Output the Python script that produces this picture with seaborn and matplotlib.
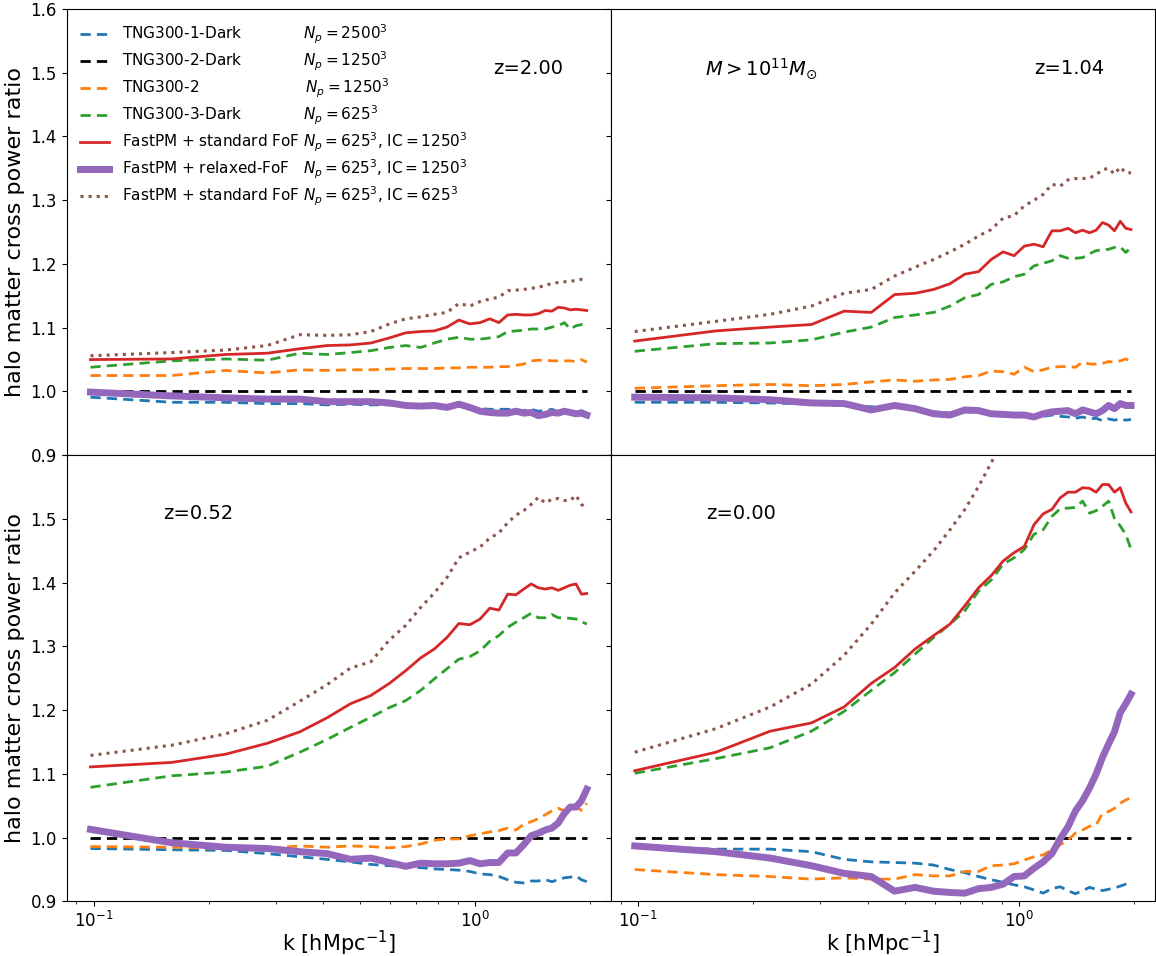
import numpy as np
import matplotlib
matplotlib.use("Agg")
import matplotlib.pyplot as plt
import seaborn as sns

# wavenumber bins [h/Mpc]
K = [0.098, 0.160, 0.222, 0.285, 0.347, 0.409, 0.471, 0.533, 0.596, 0.658,
     0.720, 0.782, 0.844, 0.907, 0.969, 1.031, 1.093, 1.155, 1.218, 1.280,
     1.342, 1.404, 1.466, 1.529, 1.591, 1.653, 1.715, 1.777, 1.840, 1.902, 1.964]

# reference run (ratio to itself)
REF = [1.0, 1.0, 1.0, 1.0, 1.0, 1.0, 1.0, 1.0, 1.0, 1.0, 1.0, 1.0, 1.0, 1.0, 1.0, 1.0,
       1.0, 1.0, 1.0, 1.0, 1.0, 1.0, 1.0, 1.0, 1.0, 1.0, 1.0, 1.0, 1.0, 1.0, 1.0]

# ---- z = 2.00 ----
z200_tng1dark = [0.991, 0.983, 0.983, 0.981, 0.981, 0.979, 0.980, 0.979, 0.979, 0.978, 0.977,
                 0.977, 0.976, 0.977, 0.975, 0.973, 0.972, 0.972, 0.972, 0.971, 0.970, 0.972,
                 0.969, 0.970, 0.972, 0.968, 0.970, 0.969, 0.967, 0.970, 0.966]
z200_tng2 = [1.025, 1.025, 1.033, 1.029, 1.034, 1.033, 1.034, 1.034, 1.035, 1.036, 1.036,
             1.036, 1.037, 1.037, 1.038, 1.038, 1.038, 1.039, 1.039, 1.041, 1.043, 1.048,
             1.049, 1.049, 1.048, 1.048, 1.048, 1.048, 1.047, 1.050, 1.046]
z200_tng3dark = [1.038, 1.048, 1.051, 1.049, 1.060, 1.058, 1.061, 1.064, 1.069, 1.072, 1.069,
                 1.076, 1.082, 1.085, 1.082, 1.082, 1.084, 1.086, 1.094, 1.095, 1.096, 1.098,
                 1.098, 1.098, 1.101, 1.103, 1.108, 1.098, 1.103, 1.105, 1.106]
z200_fof = [1.050, 1.051, 1.058, 1.060, 1.067, 1.072, 1.073, 1.076, 1.084, 1.092, 1.094,
            1.095, 1.101, 1.112, 1.106, 1.108, 1.114, 1.108, 1.120, 1.121, 1.120, 1.120,
            1.122, 1.127, 1.126, 1.132, 1.131, 1.128, 1.129, 1.128, 1.127]
z200_relaxed = [0.999, 0.993, 0.990, 0.988, 0.988, 0.984, 0.984, 0.984, 0.982, 0.978, 0.977,
                0.978, 0.975, 0.980, 0.975, 0.969, 0.967, 0.966, 0.966, 0.969, 0.966, 0.967,
                0.962, 0.964, 0.967, 0.966, 0.969, 0.967, 0.965, 0.966, 0.963]
z200_fof625 = [1.056, 1.061, 1.065, 1.072, 1.089, 1.088, 1.089, 1.094, 1.106, 1.114, 1.117,
               1.121, 1.124, 1.138, 1.134, 1.141, 1.145, 1.148, 1.158, 1.159, 1.160, 1.162,
               1.163, 1.167, 1.169, 1.171, 1.172, 1.173, 1.174, 1.176, 1.177]

# ---- z = 1.04 ----
z104_tng1dark = [0.983, 0.983, 0.982, 0.980, 0.978, 0.976, 0.975, 0.972, 0.968, 0.966, 0.968,
                 0.967, 0.963, 0.962, 0.961, 0.960, 0.958, 0.961, 0.963, 0.961, 0.960, 0.958,
                 0.960, 0.957, 0.958, 0.954, 0.957, 0.955, 0.957, 0.955, 0.956]
z104_tng2 = [1.005, 1.009, 1.011, 1.009, 1.011, 1.015, 1.018, 1.016, 1.018, 1.019, 1.023,
             1.025, 1.032, 1.031, 1.027, 1.038, 1.031, 1.034, 1.038, 1.039, 1.039, 1.038,
             1.046, 1.043, 1.043, 1.044, 1.047, 1.046, 1.048, 1.051, 1.047]
z104_tng3dark = [1.063, 1.075, 1.076, 1.081, 1.093, 1.101, 1.116, 1.120, 1.124, 1.134, 1.147,
                 1.152, 1.168, 1.172, 1.180, 1.184, 1.197, 1.201, 1.205, 1.213, 1.209, 1.209,
                 1.210, 1.216, 1.221, 1.222, 1.223, 1.226, 1.227, 1.218, 1.226]
z104_fof = [1.079, 1.095, 1.101, 1.105, 1.126, 1.124, 1.152, 1.154, 1.160, 1.169, 1.184,
            1.188, 1.207, 1.219, 1.213, 1.228, 1.231, 1.227, 1.252, 1.252, 1.256, 1.249,
            1.253, 1.249, 1.253, 1.265, 1.261, 1.252, 1.267, 1.256, 1.254]
z104_relaxed = [0.991, 0.990, 0.987, 0.982, 0.981, 0.971, 0.978, 0.973, 0.965, 0.963, 0.971,
                0.970, 0.965, 0.964, 0.963, 0.963, 0.960, 0.965, 0.968, 0.969, 0.970, 0.965,
                0.971, 0.968, 0.965, 0.970, 0.978, 0.973, 0.981, 0.978, 0.978]
z104_fof625 = [1.094, 1.110, 1.121, 1.134, 1.154, 1.160, 1.181, 1.195, 1.207, 1.219, 1.231,
               1.244, 1.254, 1.272, 1.276, 1.291, 1.300, 1.309, 1.325, 1.322, 1.332, 1.334,
               1.334, 1.335, 1.340, 1.348, 1.350, 1.341, 1.352, 1.343, 1.343]

# ---- z = 0.52 ----
z052_tng1dark = [0.983, 0.981, 0.980, 0.975, 0.970, 0.966, 0.962, 0.958, 0.956, 0.954, 0.953,
                 0.951, 0.950, 0.949, 0.947, 0.943, 0.942, 0.939, 0.934, 0.930, 0.929, 0.932,
                 0.932, 0.934, 0.931, 0.934, 0.937, 0.938, 0.940, 0.934, 0.931]
z052_tng2 = [0.986, 0.985, 0.983, 0.983, 0.987, 0.985, 0.987, 0.986, 0.984, 0.986, 0.990,
             0.996, 0.998, 0.998, 1.003, 1.006, 1.009, 1.011, 1.015, 1.012, 1.021, 1.025,
             1.030, 1.036, 1.042, 1.046, 1.042, 1.046, 1.048, 1.043, 1.054]
z052_tng3dark = [1.079, 1.097, 1.103, 1.112, 1.134, 1.154, 1.173, 1.189, 1.204, 1.215, 1.231,
                 1.249, 1.265, 1.280, 1.284, 1.293, 1.308, 1.317, 1.330, 1.338, 1.345, 1.352,
                 1.345, 1.345, 1.350, 1.345, 1.345, 1.344, 1.343, 1.339, 1.335]
z052_fof = [1.111, 1.118, 1.131, 1.148, 1.166, 1.188, 1.210, 1.223, 1.242, 1.262, 1.282,
            1.296, 1.314, 1.336, 1.334, 1.343, 1.360, 1.357, 1.382, 1.381, 1.390, 1.398,
            1.392, 1.390, 1.392, 1.388, 1.392, 1.396, 1.398, 1.382, 1.383]
z052_relaxed = [1.013, 0.992, 0.985, 0.983, 0.978, 0.975, 0.966, 0.968, 0.961, 0.955, 0.960,
                0.959, 0.959, 0.960, 0.964, 0.959, 0.961, 0.961, 0.976, 0.976, 0.989, 1.003,
                1.007, 1.012, 1.015, 1.023, 1.038, 1.048, 1.048, 1.058, 1.076]
z052_fof625 = [1.129, 1.145, 1.163, 1.184, 1.214, 1.240, 1.266, 1.276, 1.310, 1.333, 1.361,
               1.384, 1.408, 1.439, 1.448, 1.456, 1.470, 1.478, 1.494, 1.506, 1.513, 1.523,
               1.534, 1.525, 1.531, 1.532, 1.529, 1.529, 1.537, 1.523, 1.516]

# ---- z = 0.00 ----
z000_tng1dark = [0.985, 0.982, 0.982, 0.978, 0.966, 0.962, 0.961, 0.960, 0.957, 0.950, 0.945,
                 0.939, 0.934, 0.930, 0.926, 0.923, 0.918, 0.913, 0.920, 0.923, 0.917, 0.912,
                 0.917, 0.922, 0.919, 0.917, 0.919, 0.921, 0.924, 0.927, 0.929]
z000_tng2 = [0.950, 0.942, 0.939, 0.935, 0.937, 0.935, 0.935, 0.942, 0.940, 0.940, 0.947,
             0.947, 0.956, 0.957, 0.959, 0.965, 0.970, 0.973, 0.981, 0.989, 0.996, 1.007,
             1.012, 1.018, 1.020, 1.038, 1.041, 1.046, 1.054, 1.059, 1.063]
z000_tng3dark = [1.101, 1.124, 1.141, 1.167, 1.198, 1.231, 1.259, 1.288, 1.314, 1.335, 1.356,
                 1.387, 1.404, 1.429, 1.439, 1.452, 1.476, 1.483, 1.504, 1.516, 1.517, 1.518,
                 1.528, 1.509, 1.513, 1.520, 1.528, 1.501, 1.489, 1.476, 1.452]
z000_fof = [1.105, 1.134, 1.167, 1.180, 1.205, 1.242, 1.267, 1.296, 1.317, 1.335, 1.364,
            1.392, 1.411, 1.434, 1.447, 1.457, 1.491, 1.508, 1.515, 1.533, 1.542, 1.542,
            1.549, 1.548, 1.542, 1.554, 1.554, 1.542, 1.549, 1.525, 1.511]
z000_relaxed = [0.987, 0.978, 0.968, 0.956, 0.944, 0.939, 0.916, 0.922, 0.916, 0.914, 0.913,
                0.920, 0.922, 0.927, 0.939, 0.940, 0.952, 0.962, 0.975, 0.998, 1.017, 1.042,
                1.058, 1.078, 1.100, 1.126, 1.147, 1.166, 1.196, 1.210, 1.225]
z000_fof625 = [1.134, 1.171, 1.205, 1.241, 1.286, 1.335, 1.384, 1.418, 1.450, 1.483, 1.515,
               1.551, 1.588, 1.625, 1.660]

LABELS = [
    "TNG300-1-Dark" + " " * 13 + r"$N_p=2500^3$",
    "TNG300-2-Dark" + " " * 13 + r"$N_p=1250^3$",
    "TNG300-2" + " " * 22 + r"$N_p=1250^3$",
    "TNG300-3-Dark" + " " * 13 + r"$N_p=625^3$",
    "FastPM + standard FoF " + r"$N_p=625^3$, $\mathrm{IC}=1250^3$",
    "FastPM + relaxed-FoF   " + r"$N_p=625^3$, $\mathrm{IC}=1250^3$",
    "FastPM + standard FoF " + r"$N_p=625^3$, $\mathrm{IC}=625^3$",
]
COLORS = ["tab:blue", "black", "tab:orange", "tab:green", "tab:red", "tab:purple", "tab:brown"]
STYLES = ["--", "--", "--", "--", "-", "-", ":"]
WIDTHS = [2, 2, 2, 2, 2, 5, 2.2]

PANELS = [
    ("z=2.00", [z200_tng1dark, REF, z200_tng2, z200_tng3dark, z200_fof, z200_relaxed, z200_fof625]),
    ("z=1.04", [z104_tng1dark, REF, z104_tng2, z104_tng3dark, z104_fof, z104_relaxed, z104_fof625]),
    ("z=0.52", [z052_tng1dark, REF, z052_tng2, z052_tng3dark, z052_fof, z052_relaxed, z052_fof625]),
    ("z=0.00", [z000_tng1dark, REF, z000_tng2, z000_tng3dark, z000_fof, z000_relaxed, z000_fof625]),
]
ZPOS = [(0.783, 0.866), (0.778, 0.866), (0.178, 0.870), (0.176, 0.870)]

fig, axes = plt.subplots(2, 2, figsize=(11.56, 9.56), dpi=100, sharex=True, sharey=True)
fig.subplots_adjust(left=66.5 / 1156, right=1155 / 1156, bottom=1 - 901.4 / 956,
                    top=1 - 9 / 956, wspace=0, hspace=0)

for i, (ax, (ztxt, series)) in enumerate(zip(axes.flat, PANELS)):
    for j, vals in enumerate(series):
        kk = K[:len(vals)]
        kw = dict(color=COLORS[j], linestyle=STYLES[j], linewidth=WIDTHS[j])
        if i == 0:
            kw["label"] = LABELS[j]
        line = sns.lineplot(x=kk, y=vals, ax=ax, **kw).get_lines()[-1]
        if STYLES[j] == "--":
            line.set_dashes((3.7, 2.2))
    ax.set_xscale("log")
    ax.set_xlim(0.0848, 2.27)
    ax.set_ylim(0.9, 1.6)
    ax.set_yticks([0.9, 1.0, 1.1, 1.2, 1.3, 1.4, 1.5, 1.6])
    ax.tick_params(labelsize=12)
    ax.text(ZPOS[i][0], ZPOS[i][1], ztxt, transform=ax.transAxes, fontsize=14,
            ha="left", va="center")
    ax.set_xlabel("")
    ax.set_ylabel("")
    if i != 0 and ax.get_legend() is not None:
        ax.get_legend().remove()

leg = axes[0, 0].legend(loc="upper left", frameon=False, fontsize=11, labelspacing=0.24,
                        borderaxespad=0.5, handlelength=1.9)
for h in leg.get_lines():
    if h.get_linestyle() == "--":
        h.set_dashes((3.7, 2.2))
axes[0, 1].text(0.174, 0.866, r"$M>10^{11}M_{\odot}$", transform=axes[0, 1].transAxes,
                fontsize=14, ha="left", va="center")
for ax in axes[:, 0]:
    ax.set_ylabel("halo matter cross power ratio", fontsize=16)
for ax in axes[1, :]:
    ax.set_xlabel(r"k [hMpc$^{-1}$]", fontsize=15, labelpad=-2)

fig.canvas.draw()
axes[1, 0].get_yticklabels()[-1].set_visible(False)

fig.savefig("out.png", dpi=100)
